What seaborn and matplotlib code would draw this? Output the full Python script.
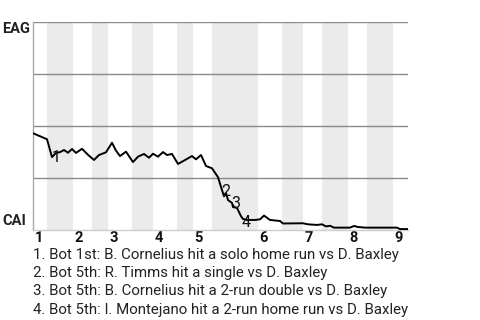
import matplotlib
matplotlib.use("Agg")
import matplotlib.pyplot as plt
import matplotlib.transforms as mtransforms
import seaborn as sns
import pandas as pd

# ---- data (game progress units, EAG win probability) ----
progress = [0, 14, 19, 23, 27, 31, 35, 39, 43, 49, 55, 61, 66, 73, 79, 83, 87, 93,
            100, 105, 111, 116, 120, 125, 130, 134, 139, 145, 151, 159, 163, 168,
            173, 179, 185, 189, 191, 193, 195, 199, 200, 204, 208, 210, 214, 222,
            227, 231, 237, 247, 250, 270, 275, 284, 289, 293, 297, 301, 317, 321,
            325, 332, 364, 367, 375]
eag_wp = [0.464, 0.435, 0.349, 0.369, 0.373, 0.383, 0.370, 0.388, 0.369, 0.389,
          0.360, 0.335, 0.359, 0.372, 0.418, 0.380, 0.354, 0.375, 0.325, 0.351,
          0.364, 0.346, 0.365, 0.351, 0.373, 0.359, 0.364, 0.316, 0.332, 0.354,
          0.338, 0.359, 0.306, 0.295, 0.252, 0.190, 0.160, 0.175, 0.142, 0.128,
          0.108, 0.104, 0.064, 0.051, 0.046, 0.046, 0.049, 0.067, 0.046, 0.041,
          0.029, 0.030, 0.025, 0.022, 0.025, 0.015, 0.018, 0.009, 0.009, 0.017,
          0.012, 0.009, 0.009, 0.002, 0.002]

half_inning_starts = [0, 14, 40, 59, 75, 99, 120, 144, 160, 179, 225, 249, 270,
                      289, 315, 334, 360]
game_end = 375
inning_labels = ["1", "2", "3", "4", "5", "6", "7", "8", "9"]

event_marks = ["1", "2", "3", "4"]
event_x = [23, 193, 203, 213.5]
event_y = [0.349, 0.181, 0.123, 0.034]
event_text = [
    "1. Bot 1st: B. Cornelius hit a solo home run vs D. Baxley",
    "2. Bot 5th: R. Timms hit a single vs D. Baxley",
    "3. Bot 5th: B. Cornelius hit a 2-run double vs D. Baxley",
    "4. Bot 5th: I. Montejano hit a 2-run home run vs D. Baxley",
]
team_top = "EAG"
team_bottom = "CAI"

# ---- figure ----
sns.set_style("white")
plt.rcParams["font.family"] = ["Roboto", "DejaVu Sans"]

fig = plt.figure(figsize=(4.8, 3.2), dpi=100)
ax = fig.add_axes([33 / 480, 1 - 229.5 / 320, 375 / 480, 207.5 / 320])

# shaded bottom half-innings
bounds = half_inning_starts + [game_end]
for i in range(1, len(half_inning_starts), 2):
    ax.axvspan(bounds[i], bounds[i + 1], color="#ebebeb", lw=0, zorder=0)

for yv in [0.25, 0.5, 0.75, 1.0]:
    ax.axhline(yv, color="#8a8a8a", lw=1.0, zorder=1)

df = pd.DataFrame({"progress": progress, "wp": eag_wp})
sns.lineplot(data=df, x="progress", y="wp", color="black", lw=1.4, ax=ax,
             zorder=3, sort=False)

for m, x, y in zip(event_marks, event_x, event_y):
    ax.text(x, y, m, ha="center", va="center", fontsize=11.5, color="#111111",
            zorder=4)

ax.set_xlim(0, game_end)
ax.set_ylim(0, 1)
ax.set_xlabel("")
ax.set_ylabel("")
ax.set_yticks([])
inning_starts = half_inning_starts[0::2]
ax.set_xticks(inning_starts)
ax.set_xticklabels(inning_labels, fontsize=10.5, fontweight="bold")
ax.tick_params(axis="x", length=0, pad=0.8)
offset = mtransforms.ScaledTranslation(1.5 / 100, 0, fig.dpi_scale_trans)
for lbl in ax.get_xticklabels():
    lbl.set_horizontalalignment("left")
    lbl.set_color("#111111")
    lbl.set_transform(lbl.get_transform() + offset)

for s in ["top", "right"]:
    ax.spines[s].set_visible(False)
ax.spines["left"].set_color("#aaaaaa")
ax.spines["left"].set_linewidth(1.0)
ax.spines["bottom"].set_color("#cccccc")
ax.spines["bottom"].set_linewidth(1.0)

fig.text(2 / 480, 1 - 28.7 / 320, team_top, ha="left", va="center",
         fontsize=10.5, fontweight="bold", color="#222222")
fig.text(2 / 480, 1 - 220.8 / 320, team_bottom, ha="left", va="center",
         fontsize=10.5, fontweight="bold", color="#222222")

line_base = [258.5, 277, 295.5, 314]
for t, yy in zip(event_text, line_base):
    fig.text(33 / 480, 1 - yy / 320, t, ha="left", va="baseline", fontsize=10.8,
             color="#222222")

fig.savefig("out.png", dpi=100)
